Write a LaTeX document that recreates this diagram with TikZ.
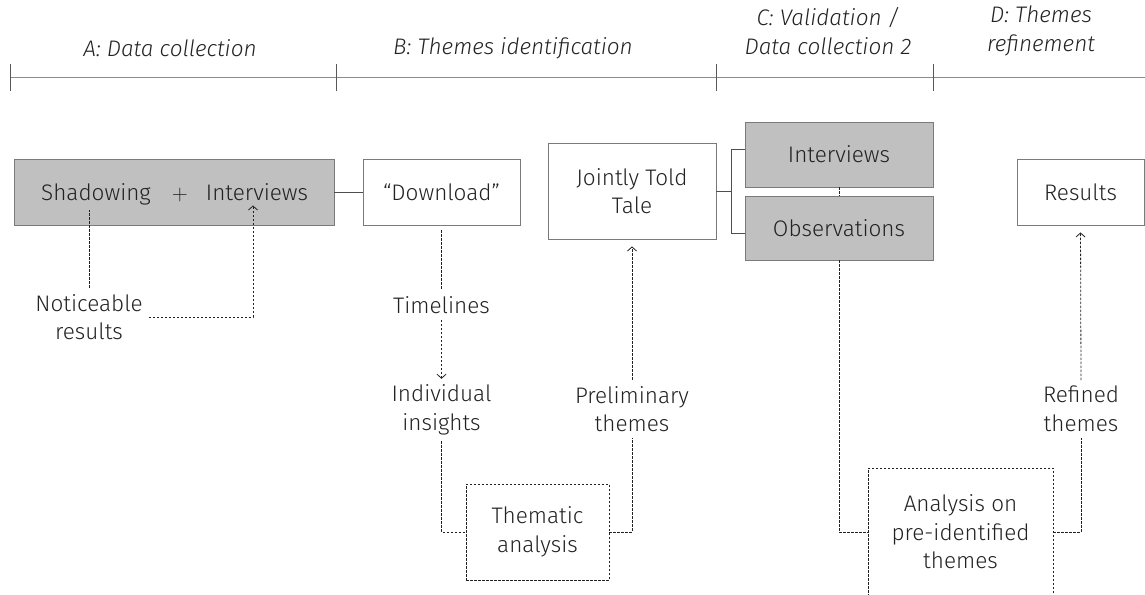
\documentclass[tikz,border=0pt]{standalone}
\usepackage{fontspec}
\setmainfont{Fira Sans Light}[ItalicFont={Fira Sans Light Italic}]
\usepackage{xcolor}
\usetikzlibrary{arrows.meta,positioning,calc}
\definecolor{boxgray}{HTML}{C0C0C0}
\definecolor{edgegray}{HTML}{7A7A7A}
\definecolor{ink}{HTML}{222222}
\definecolor{rulegray}{HTML}{8C8C8C}

\begin{document}
\begin{tikzpicture}[x=1pt,y=-1pt,font=\fontsize{22.5}{28.5}\selectfont,
  every node/.style={text=ink},
  plainbox/.style={draw=edgegray,line width=0.9pt,fill=white,align=center},
  graybox/.style={plainbox,fill=boxgray},
  dotbox/.style={draw=ink,line width=0.8pt,dash pattern=on 2.5pt off 1.5pt,align=center},
  lbl/.style={align=center,inner sep=6pt},
  word/.style={anchor=base,inner sep=5pt},
  link/.style={draw=ink!80,line width=0.9pt},
  trace/.style={draw=ink,line width=0.8pt,dash pattern=on 2.5pt off 1.5pt},
  tip/.style={-{Straight Barb[length=4pt,width=9pt,line width=0.8pt]}},
  head/.style={font=\fontsize{22.5}{29.5}\selectfont\itshape,align=center}]
\useasboundingbox (0,0) rectangle (1145,594);
\clip (0,0) rectangle (1145,594);
% timeline
\draw[rulegray,line width=1pt] (10,77) -- (1145,77);
\foreach \x in {10,336,716,933} {\draw[ink!75,line width=0.9pt] (\x,64) -- (\x,91);}
\node[head] (hdA) at (170,48) {A: Data collection};
\node[head] (hdB) at (513,48) {B: Themes identification};
\node[head] (hdC) at (828,31) {C: Validation /\\Data collection 2};
\node[head] (hdD) at (1041,31) {D: Themes\\refinement};
% boxes
\node[graybox,minimum width=320,minimum height=66] (collect) at (174,192) {};
\node[word] (shadowing) at (96,200) {Shadowing};
\node[word,font=\fontsize{22}{28}\sffamily] (plus) at (180,200) {+};
\node[word] (intv) at (257,200) {Interviews};
\node[plainbox,minimum width=157,minimum height=66] (download) at (441.5,192) {“Download”};
\node[plainbox,minimum width=168,minimum height=96] (jtt) at (632,191) {Jointly Told\\Tale};
\node[graybox,minimum width=188,minimum height=65] (intv2) at (839,154.5) {Interviews};
\node[graybox,minimum width=188,minimum height=64] (obs) at (839,228) {Observations};
\node[plainbox,minimum width=127,minimum height=66] (results) at (1080.5,192) {Results};
\node[dotbox,minimum width=143,minimum height=96] (thematic) at (537.5,532) {Thematic\\analysis};
\node[dotbox,minimum width=185,minimum height=128] (analysis) at (960.5,532) {Analysis on\\pre-identified\\themes};
% labels
\node[lbl] (noticeable) at (89,317) {Noticeable\\results};
\node[lbl] (timelines) at (441.5,305) {Timelines};
\node[lbl] (indiv) at (441.5,410) {Individual\\insights};
\node[lbl] (prelim) at (632,409) {Preliminary\\themes};
\node[lbl] (refined) at (1081,409) {Refined\\themes};
% connectors
\draw[link] (collect.east) -- (download.west);
\draw[link] (jtt.east) -- ++(15,0) coordinate (fork);
\draw[link] (fork) |- ([yshift=5pt]intv2.west);
\draw[link] (fork) |- ([yshift=-5pt]obs.west);
\draw[trace] (noticeable.north) -- (noticeable.north |- shadowing.south);
\draw[trace,tip] (noticeable.east) -| ([xshift=-4pt]intv.south);
\draw[trace,shorten <=5pt] (download.south) -- (timelines.north);
\draw[trace,tip] (timelines.south) -- (indiv.north);
\draw[trace] (indiv.south) |- (thematic.west);
\draw[trace] (thematic.east) -| (prelim.south);
\draw[trace,tip,shorten >=7pt] (prelim.north) -- (jtt.south);
\draw[trace] (intv2.south) -- (obs.north);
\draw[trace] (obs.south) |- (analysis.west);
\draw[trace] (analysis.east) -| (refined.south);
\draw[trace,tip,shorten >=7pt] (refined.north) -- (results.south);
\end{tikzpicture}
\end{document}
